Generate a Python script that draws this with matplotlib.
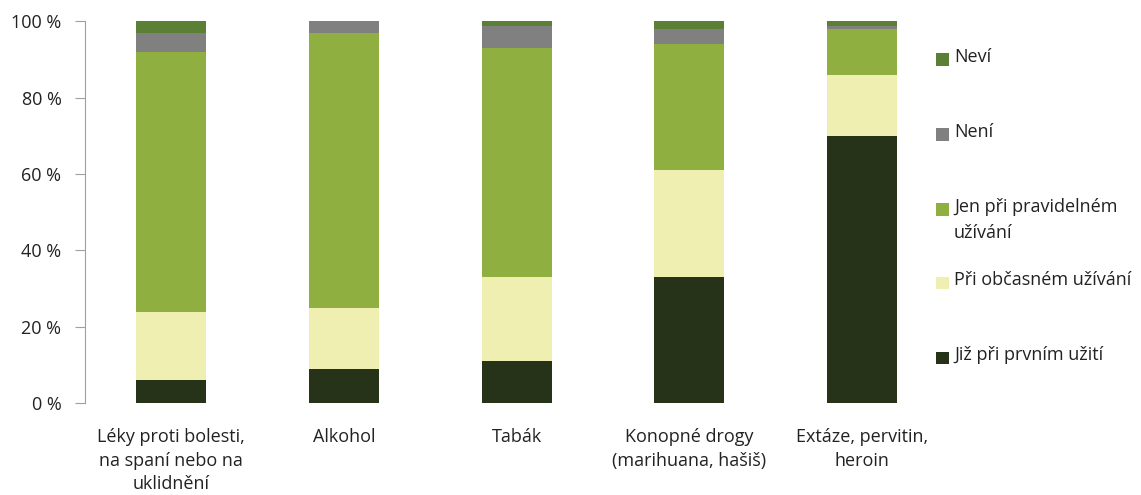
import numpy as np
import matplotlib.pyplot as plt
from matplotlib.patches import Rectangle

plt.rcParams['font.family'] = ['Open Sans', 'DejaVu Sans']

categories = ['Léky proti bolesti,\nna spaní nebo na\nuklidnění', 'Alkohol', 'Tabák',
              'Konopné drogy\n(marihuana, hašiš)', 'Extáze, pervitin,\nheroin']
series_names = ['Již při prvním užití', 'Při občasném užívání', 'Jen při pravidelném\nužívání',
                'Není', 'Neví']
jiz = [6, 9, 11, 33, 70]
obcas = [18, 16, 22, 28, 16]
pravid = [68, 72, 60, 33, 12]
neni = [5, 3, 5.7, 4, 0.8]
nevi = [3, 0, 1.3, 2, 1.2]
colors = ['#263318', '#eeefb1', '#8fb041', '#808080', '#5a7f35']

data = [jiz, obcas, pravid, neni, nevi]

fig = plt.figure(figsize=(11.41, 4.95), dpi=100)
ax = fig.add_axes([0.0745, 0.1853, 0.7565, 0.7717])

x = np.arange(len(categories))
bottom = np.zeros(len(categories))
for vals, col in zip(data, colors):
    ax.bar(x, vals, 0.405, bottom=bottom, color=col, edgecolor='none')
    bottom += np.array(vals)

fs = 13
ax.set_xlim(-0.5, 4.5)
ax.set_ylim(0, 100)
ax.set_yticks(np.arange(0, 101, 20))
ax.set_yticklabels(['%d %%' % v for v in range(0, 101, 20)], fontsize=fs, color='#222222')
ax.set_xticks(x)
ax.set_xticklabels(categories, fontsize=fs, color='#222222', linespacing=1.38)
ax.tick_params(axis='x', length=0, pad=18)
ax.tick_params(axis='y', length=7, color='#a0a0a0', pad=10)
for s in ['top', 'right', 'bottom']:
    ax.spines[s].set_visible(False)
ax.spines['left'].set_color('#a0a0a0')

# legend, drawn by hand (top to bottom)
leg_y = [60, 135, 210, 283, 358]
for name, col, yy in zip(series_names[::-1], colors[::-1], leg_y):
    yf = 1 - yy / 495
    fig.add_artist(Rectangle((936 / 1141, yf - 6 / 495), 12.5 / 1141, 12.5 / 495,
                             transform=fig.transFigure, color=col, lw=0))
    fig.text(954 / 1141, yf + 12 / 495, name, fontsize=fs, color='#222222',
             va='top', ha='left', linespacing=1.6)

fig.savefig('out.png', dpi=100)
